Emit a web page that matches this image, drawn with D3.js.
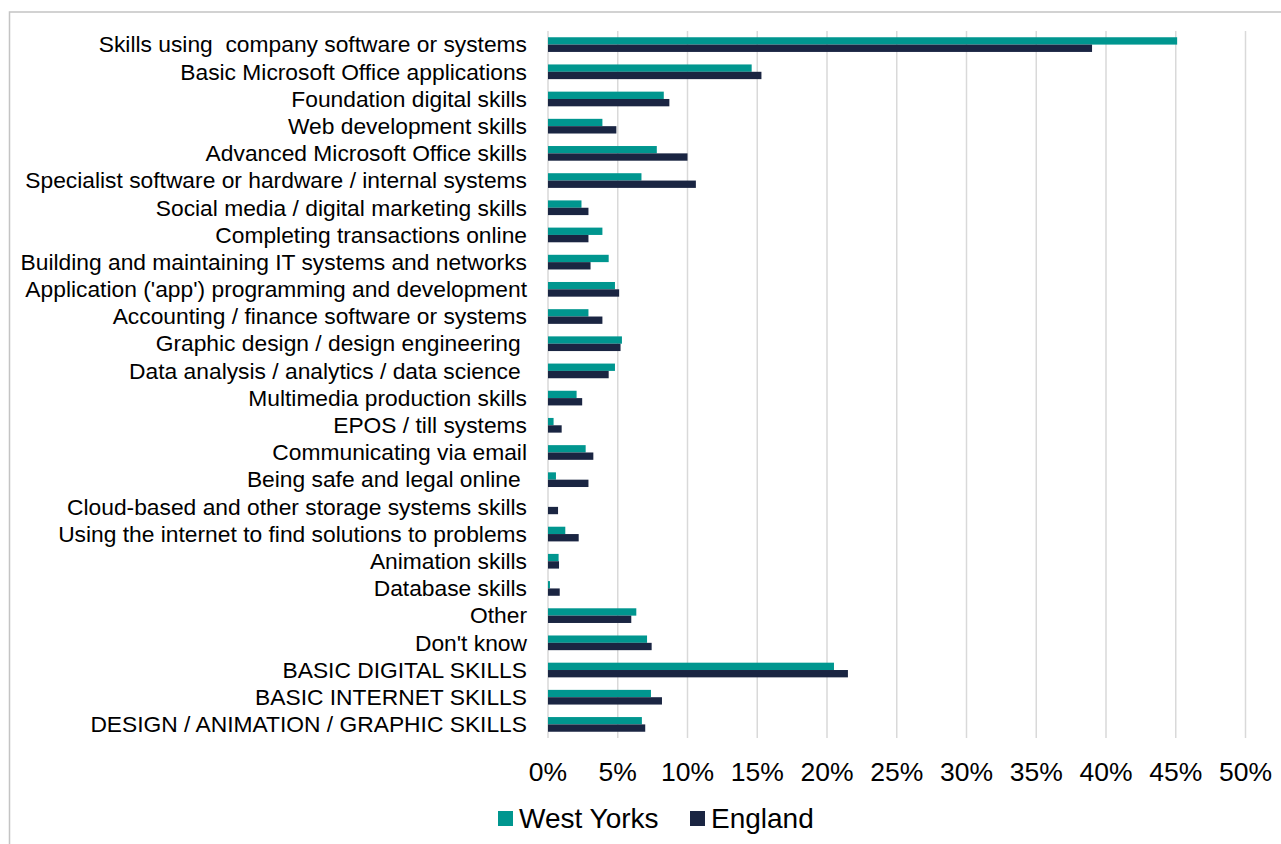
<!DOCTYPE html>
<html>
<head>
<meta charset="utf-8">
<script src="https://cdn.jsdelivr.net/npm/d3@7"></script>
<style>
  body { margin: 0; background: #fff; }
  svg text { font-family: "Liberation Sans", Arial, sans-serif; fill: #000; }
</style>
</head>
<body>
<svg></svg>
<script>
const categories = [
  'Skills using  company software or systems',
  'Basic Microsoft Office applications',
  'Foundation digital skills',
  'Web development skills',
  'Advanced Microsoft Office skills',
  'Specialist software or hardware / internal systems',
  'Social media / digital marketing skills',
  'Completing transactions online',
  'Building and maintaining IT systems and networks',
  "Application ('app') programming and development",
  'Accounting / finance software or systems',
  'Graphic design / design engineering ',
  'Data analysis / analytics / data science ',
  'Multimedia production skills',
  'EPOS / till systems',
  'Communicating via email',
  'Being safe and legal online ',
  'Cloud-based and other storage systems skills',
  'Using the internet to find solutions to problems',
  'Animation skills',
  'Database skills',
  'Other',
  "Don't know",
  'BASIC DIGITAL SKILLS',
  'BASIC INTERNET SKILLS',
  'DESIGN / ANIMATION / GRAPHIC SKILLS'
];

const westYorks = [45.1, 14.6, 8.3, 3.9, 7.8, 6.7, 2.4, 3.9, 4.35, 4.8, 2.9, 5.3, 4.8, 2.05,
  0.4, 2.7, 0.57, 0, 1.24, 0.76, 0.14, 6.33, 7.1, 20.5, 7.38, 6.73];
const england = [39.0, 15.3, 8.7, 4.9, 10.0, 10.6, 2.9, 2.9, 3.05, 5.1, 3.9, 5.2, 4.35, 2.45,
  0.98, 3.25, 2.9, 0.72, 2.2, 0.79, 0.84, 5.97, 7.43, 21.5, 8.17, 6.97];

const seriesNames = ['West Yorks', 'England'];
const seriesColors = ['#00968f', '#1a2542'];
const xTicks = [0, 5, 10, 15, 20, 25, 30, 35, 40, 45, 50];

const width = 1281;
const height = 844;

const svg = d3.select('svg').attr('width', width).attr('height', height);

// outer chart border
svg.append('rect')
  .attr('x', 9.5).attr('y', 12)
  .attr('width', 1300).attr('height', 900)
  .attr('fill', 'none')
  .attr('stroke', '#c4c4c4')
  .attr('stroke-width', 1.5);

const xScale = d3.scaleLinear().domain([0, 50]).range([548, 1245.5]);
const yScale = d3.scaleBand().domain(categories).range([31, 738])
  .paddingInner(0.46).paddingOuter(0.23);
const sub = d3.scaleBand().domain(seriesNames).range([0, yScale.bandwidth()]);

// gridlines
svg.append('g')
  .selectAll('line')
  .data(xTicks)
  .enter()
  .append('line')
  .attr('x1', d => xScale(d)).attr('x2', d => xScale(d))
  .attr('y1', 31).attr('y2', 738)
  .attr('stroke', '#d9d9d9')
  .attr('stroke-width', 1.5);

// tick labels
svg.append('g')
  .selectAll('text')
  .data(xTicks)
  .enter()
  .append('text')
  .attr('x', d => xScale(d))
  .attr('y', 781)
  .attr('text-anchor', 'middle')
  .style('font-size', '26.5px')
  .text(d => d + '%');

// category labels
svg.append('g')
  .selectAll('text')
  .data(categories)
  .enter()
  .append('text')
  .attr('x', 527)
  .attr('y', d => yScale(d) + yScale.bandwidth() / 2)
  .attr('dy', '0.34em')
  .attr('text-anchor', 'end')
  .style('font-size', '22.8px')
  .style('white-space', 'pre')
  .attr('xml:space', 'preserve')
  .text(d => d);

// bars
const seriesData = [westYorks, england];
seriesData.forEach((values, i) => {
  svg.append('g')
    .selectAll('rect')
    .data(values)
    .enter()
    .append('rect')
    .attr('x', xScale(0))
    .attr('y', (d, j) => yScale(categories[j]) + sub(seriesNames[i]))
    .attr('width', d => xScale(d) - xScale(0))
    .attr('height', sub.bandwidth())
    .attr('fill', seriesColors[i]);
});

// legend
const legendX = [498, 690];
const legend = svg.append('g');
seriesNames.forEach((name, i) => {
  legend.append('rect')
    .attr('x', legendX[i]).attr('y', 811)
    .attr('width', 15).attr('height', 15)
    .attr('fill', seriesColors[i]);
  legend.append('text')
    .attr('x', legendX[i] + 21)
    .attr('y', 828)
    .style('font-size', '28px')
    .text(name);
});
</script>
</body>
</html>
